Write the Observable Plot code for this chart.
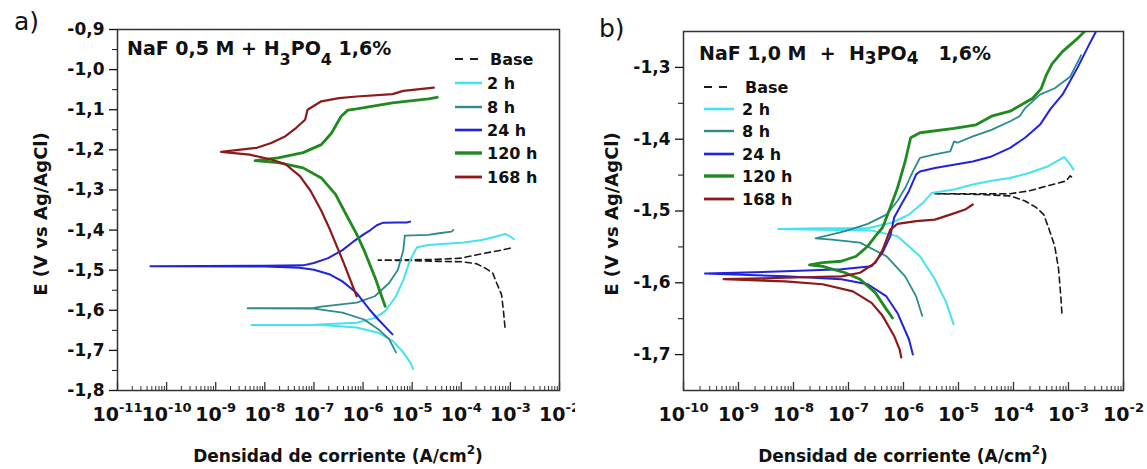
<!DOCTYPE html>
<html>
<head>
<meta charset="utf-8">
<script src="https://cdn.jsdelivr.net/npm/d3@7"></script>
<script src="https://cdn.jsdelivr.net/npm/@observablehq/plot@0.6"></script>
<style>
  body { margin: 0; background: #fff; }
  #wrap { display: flex; width: 1147px; height: 469px; }
  #wrap svg { display: block; overflow: visible; }
</style>
</head>
<body>
<div id="wrap"></div>
<script>
// ---------- series (shared by both panels) ----------
const seriesNames  = ["Base", "2 h", "8 h", "24 h", "120 h", "168 h"];
const seriesColors = ["#1a1a1a", "#44e3ee", "#2e8b8b", "#2222dd", "#1f8a1f", "#8b1a1a"];
const seriesWidths = [1.6, 2, 1.8, 2, 2.8, 2.2];

// ---------- panel a) NaF 0,5 M : [log10(i / A cm-2), E / V vs Ag/AgCl] ----------
const aBase = [[-3.11,-1.642],[-3.145,-1.598],[-3.18,-1.561],[-3.28,-1.532],[-3.36,-1.507],[-3.51,-1.495],[-3.69,-1.484],[-4.0,-1.479],[-4.5,-1.478],[-5.0,-1.476],[-5.69,-1.475],[-5.0,-1.474],[-4.5,-1.473],[-4.0,-1.470],[-3.58,-1.459],[-3.22,-1.451],[-3.0,-1.445]];
const a2h   = [[-4.98,-1.746],[-5.04,-1.73],[-5.18,-1.705],[-5.4,-1.676],[-5.69,-1.656],[-6.13,-1.643],[-6.85,-1.637],[-8.27,-1.637],[-7.0,-1.636],[-6.13,-1.631],[-5.76,-1.619],[-5.55,-1.602],[-5.33,-1.565],[-5.18,-1.524],[-5.04,-1.474],[-4.9,-1.443],[-4.67,-1.437],[-3.95,-1.431],[-3.58,-1.425],[-3.29,-1.416],[-3.1,-1.41],[-3.0,-1.416],[-2.93,-1.423]];
const a8h   = [[-5.33,-1.705],[-5.47,-1.672],[-5.69,-1.647],[-5.98,-1.623],[-6.42,-1.606],[-7.0,-1.596],[-8.35,-1.595],[-7.0,-1.594],[-6.85,-1.591],[-6.13,-1.581],[-5.76,-1.565],[-5.47,-1.532],[-5.29,-1.499],[-5.18,-1.45],[-5.15,-1.414],[-4.67,-1.412],[-4.45,-1.408],[-4.2,-1.404],[-4.16,-1.40]];
const a24h  = [[-5.4,-1.66],[-5.69,-1.623],[-5.87,-1.598],[-6.13,-1.557],[-6.42,-1.528],[-6.67,-1.511],[-7.0,-1.499],[-7.3,-1.494],[-8.0,-1.491],[-10.33,-1.49],[-8.0,-1.489],[-7.22,-1.488],[-7.0,-1.482],[-6.71,-1.47],[-6.42,-1.45],[-6.2,-1.429],[-5.98,-1.41],[-5.85,-1.40],[-5.72,-1.388],[-5.6,-1.382],[-5.3,-1.381],[-5.11,-1.381],[-5.04,-1.379]];
const a120h = [[-5.55,-1.59],[-5.75,-1.52],[-5.98,-1.45],[-6.13,-1.41],[-6.35,-1.36],[-6.56,-1.311],[-6.85,-1.27],[-7.22,-1.245],[-7.73,-1.232],[-8.2,-1.227],[-7.73,-1.22],[-7.22,-1.207],[-6.85,-1.187],[-6.64,-1.158],[-6.45,-1.117],[-6.31,-1.101],[-6.13,-1.098],[-5.4,-1.083],[-4.67,-1.073],[-4.49,-1.069]];
const a168h = [[-6.13,-1.565],[-6.4,-1.48],[-6.67,-1.40],[-6.85,-1.352],[-7.07,-1.302],[-7.29,-1.265],[-7.58,-1.236],[-7.87,-1.224],[-8.31,-1.212],[-8.89,-1.205],[-8.16,-1.195],[-7.87,-1.183],[-7.58,-1.166],[-7.36,-1.145],[-7.18,-1.125],[-7.13,-1.10],[-6.85,-1.079],[-6.49,-1.071],[-6.13,-1.067],[-5.4,-1.061],[-5.18,-1.053],[-4.56,-1.045]];

// ---------- panel b) NaF 1,0 M ----------
const bBase = [[-3.12,-1.642],[-3.14,-1.619],[-3.18,-1.581],[-3.25,-1.549],[-3.35,-1.526],[-3.45,-1.505],[-3.59,-1.495],[-3.79,-1.486],[-4.06,-1.479],[-4.6,-1.477],[-5.43,-1.476],[-4.6,-1.476],[-4.06,-1.476],[-3.72,-1.472],[-3.38,-1.465],[-3.04,-1.458],[-2.97,-1.451],[-2.91,-1.455]];
const b2h   = [[-5.09,-1.658],[-5.12,-1.651],[-5.22,-1.628],[-5.43,-1.595],[-5.7,-1.563],[-6.11,-1.535],[-6.6,-1.527],[-7.5,-1.526],[-8.28,-1.525],[-7.5,-1.524],[-6.65,-1.524],[-6.2,-1.516],[-5.9,-1.505],[-5.65,-1.489],[-5.49,-1.475],[-5.08,-1.47],[-4.74,-1.463],[-4.4,-1.458],[-4.06,-1.454],[-3.72,-1.447],[-3.38,-1.438],[-3.08,-1.425],[-2.97,-1.435],[-2.91,-1.442]];
const b8h   = [[-5.66,-1.646],[-5.77,-1.619],[-5.97,-1.591],[-6.31,-1.563],[-6.79,-1.544],[-7.3,-1.540],[-7.6,-1.538],[-7.06,-1.528],[-6.65,-1.518],[-6.31,-1.505],[-6.11,-1.486],[-5.97,-1.468],[-5.83,-1.445],[-5.7,-1.426],[-5.43,-1.421],[-5.15,-1.417],[-5.08,-1.403],[-5.02,-1.405],[-4.74,-1.396],[-4.4,-1.387],[-4.06,-1.375],[-3.89,-1.368],[-3.79,-1.357],[-3.52,-1.338],[-3.25,-1.329],[-2.97,-1.313],[-2.77,-1.283]];
const b24h  = [[-5.83,-1.70],[-5.9,-1.679],[-6.11,-1.642],[-6.31,-1.619],[-6.65,-1.602],[-7.13,-1.595],[-8.15,-1.591],[-9.61,-1.587],[-8.15,-1.584],[-7.13,-1.581],[-6.58,-1.577],[-6.38,-1.558],[-6.24,-1.535],[-6.17,-1.509],[-6.04,-1.491],[-5.9,-1.472],[-5.77,-1.449],[-5.7,-1.445],[-5.43,-1.44],[-4.74,-1.431],[-4.4,-1.424],[-4.06,-1.412],[-3.79,-1.398],[-3.52,-1.38],[-3.32,-1.357],[-3.11,-1.338],[-2.84,-1.301],[-2.63,-1.269],[-2.5,-1.25]];
const b120h = [[-6.2,-1.649],[-6.31,-1.637],[-6.51,-1.614],[-6.79,-1.595],[-7.06,-1.586],[-7.47,-1.577],[-7.71,-1.575],[-7.47,-1.572],[-7.13,-1.57],[-6.86,-1.563],[-6.65,-1.549],[-6.51,-1.535],[-6.38,-1.523],[-6.24,-1.495],[-6.11,-1.468],[-5.97,-1.431],[-5.87,-1.398],[-5.7,-1.391],[-5.08,-1.385],[-4.68,-1.38],[-4.4,-1.368],[-4.06,-1.361],[-3.65,-1.343],[-3.5,-1.33],[-3.4,-1.31],[-3.3,-1.295],[-3.11,-1.278],[-2.84,-1.26],[-2.71,-1.25]];
const b168h = [[-6.04,-1.704],[-6.07,-1.693],[-6.17,-1.674],[-6.38,-1.646],[-6.58,-1.628],[-6.92,-1.612],[-7.47,-1.602],[-8.15,-1.598],[-9.27,-1.595],[-8.15,-1.593],[-7.13,-1.591],[-6.79,-1.586],[-6.51,-1.572],[-6.38,-1.554],[-6.24,-1.526],[-6.11,-1.518],[-5.77,-1.514],[-5.43,-1.512],[-5.15,-1.505],[-4.88,-1.498],[-4.74,-1.491]];

// ---------- ticks ----------
const aXExps  = [-11, -10, -9, -8, -7, -6, -5, -4, -3, -2];
const aYTicks = [-0.9, -1.0, -1.1, -1.2, -1.3, -1.4, -1.5, -1.6, -1.7, -1.8];
const bXExps  = [-10, -9, -8, -7, -6, -5, -4, -3, -2];
const bYTicks = [-1.3, -1.4, -1.5, -1.6, -1.7];

// ---------- texts ----------
const yTitle = "E (V vs Ag/AgCl)";
const xTitleParts = [["Densidad de corriente (A/cm", 0], ["2", 1], [")", 0]];
const aTitleParts = [["NaF 0,5 M + H", 0], ["3", -1], ["PO", 0], ["4", -1], [" 1,6%", 0]];
const bTitleParts = [["NaF 1,0 M  +  H", 0], ["3", -1], ["PO", 0], ["4", -1], ["   1,6%", 0]];

const FONT = "DejaVu Sans";

function panel(cfg) {
  const H = 469;
  const plotH = H - cfg.mt - cfg.mb;
  const majorX = cfg.xExps.map(e => 10 ** e);
  const minorX = [];
  cfg.xExps.slice(0, -1).forEach(e => { for (let k = 2; k <= 9; k++) minorX.push(k * 10 ** e); });
  const minorY = cfg.yTicks.slice(0, -1).map((v, i) => (v + cfg.yTicks[i + 1]) / 2);
  const fmtY = d => d.toFixed(1).replace(".", ",");

  const marks = [
    ...cfg.series.map((pts, i) => Plot.line(pts, {
      x: d => 10 ** d[0], y: d => d[1],
      stroke: seriesColors[i], strokeWidth: seriesWidths[i],
      strokeDasharray: i === 0 ? "6,4" : null, clip: true
    })),
    Plot.frame({stroke: "#333", strokeWidth: 1.5}),
    Plot.ruleX(minorX, {insetTop: plotH - 4, stroke: "#333", strokeWidth: 1}),
    Plot.ruleX(majorX, {insetTop: plotH - 8, stroke: "#333", strokeWidth: 1.3}),
    Plot.axisX({ticks: majorX, tickSize: 0, tickPadding: 17, label: null,
      tickFormat: d => "10^" + Math.round(Math.log10(d))}),
    Plot.axisY({ticks: cfg.yTicks, tickSize: 8, tickPadding: 5, label: null, tickFormat: fmtY, strokeWidth: 1.3}),
    Plot.axisY({ticks: minorY, tickSize: 5, label: null, tickFormat: () => ""})
  ];

  const svg = Plot.plot({
    width: cfg.width, height: H,
    marginLeft: cfg.ml, marginRight: cfg.mr, marginTop: cfg.mt, marginBottom: cfg.mb,
    x: {type: "log", domain: cfg.xDomain},
    y: {domain: cfg.yDomain},
    style: {fontFamily: FONT, fontWeight: "bold", fontSize: "17px", color: "#111", background: "#fff", overflow: "visible"},
    marks
  });

  const s = d3.select(svg);
  // superscript exponents on the x tick labels
  s.selectAll("text").each(function () {
    const t = this.textContent;
    if (!t.startsWith("10^")) return;
    const e = t.slice(3);
    const sel = d3.select(this);
    sel.text(null).attr("font-size", 19);
    sel.append("tspan").text("10");
    sel.append("tspan").attr("dy", -9).attr("font-size", 13).text(e);
  });

  const textWithParts = (x, y, parts, size, subSize, shift, anchor) => {
    const t = s.append("text").attr("x", x).attr("y", y)
      .attr("text-anchor", anchor)
      .attr("font-family", FONT).attr("font-weight", "bold").attr("font-size", size)
      .attr("fill", "#111").style("white-space", "pre");
    let cur = 0;
    parts.forEach(([str, kind]) => {
      const target = kind === 0 ? 0 : (kind > 0 ? -shift.sup : shift.sub);
      t.append("tspan").attr("dy", target - cur).attr("font-size", kind === 0 ? size : subSize).text(str);
      cur = target;
    });
    return t;
  };

  // panel title
  textWithParts(cfg.titleX, cfg.titleY, cfg.titleParts, 19, cfg.subSize, {sub: cfg.subShift, sup: 0}, "start");
  // x title
  textWithParts(cfg.ml + (cfg.width - cfg.ml - cfg.mr) / 2, 462, xTitleParts, 17, 12, {sub: 0, sup: 8}, "middle");
  // y title
  s.append("text").attr("transform", `translate(${cfg.yTitleX},214) rotate(-90)`)
    .attr("text-anchor", "middle").attr("font-family", FONT).attr("font-weight", "bold")
    .attr("font-size", 18).attr("fill", "#111").text(yTitle);
  // panel letter
  s.append("text").attr("x", cfg.letterX).attr("y", cfg.letterY).attr("text-anchor", "start")
    .attr("font-family", FONT).attr("font-weight", "normal").attr("font-size", 25).attr("fill", "#111").text(cfg.letter);

  // legend
  const lg = s.append("g");
  seriesNames.forEach((name, i) => {
    const y = cfg.legRows[i];
    lg.append("line").attr("x1", cfg.legX0).attr("x2", cfg.legX1).attr("y1", y).attr("y2", y)
      .attr("stroke", seriesColors[i]).attr("stroke-width", i === 0 ? 2 : seriesWidths[i] + 0.6)
      .attr("stroke-dasharray", i === 0 ? "8,7" : null);
    lg.append("text").attr("x", cfg.legXT + (i === 0 ? 3 : 0)).attr("y", y).attr("dy", "0.36em")
      .attr("text-anchor", "start")
      .attr("font-family", FONT).attr("font-weight", "bold").attr("font-size", 16)
      .attr("fill", "#111").text(name);
  });
  return svg;
}

const wrap = document.getElementById("wrap");
wrap.append(panel({
  width: 575, ml: 117, mr: 16, mt: 29, mb: 79,
  xDomain: [1e-11, 1e-2], yDomain: [-1.8, -0.9],
  xExps: aXExps, yTicks: aYTicks,
  series: [aBase, a2h, a8h, a24h, a120h, a168h],
  titleParts: aTitleParts, titleX: 127, titleY: 55, subSize: 16, subShift: 10,
  yTitleX: 47, letter: "a)", letterX: 14, letterY: 30,
  legX0: 455, legX1: 482, legXT: 487, legRows: [59, 83, 107, 130, 153, 177]
}));
wrap.append(panel({
  width: 572, ml: 108, mr: 24, mt: 31, mb: 79,
  xDomain: [1e-10, 1e-2], yDomain: [-1.75, -1.25],
  xExps: bXExps, yTicks: bYTicks,
  series: [bBase, b2h, b8h, b24h, b120h, b168h],
  titleParts: bTitleParts, titleX: 124, titleY: 60, subSize: 17, subShift: 4,
  yTitleX: 43, letter: "b)", letterX: 24, letterY: 37,
  legX0: 129, legX1: 159, legXT: 167, legRows: [87, 109, 131, 154, 176, 199]
}));
</script>
</body>
</html>
